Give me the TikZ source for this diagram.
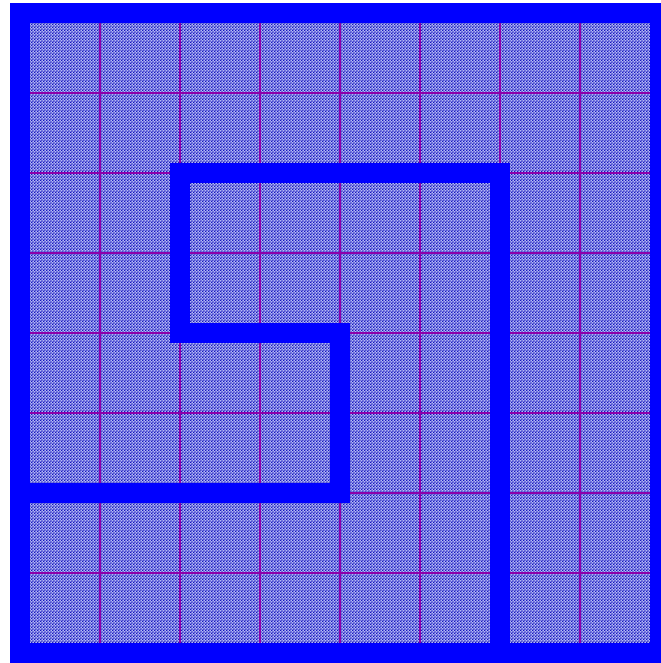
\documentclass[tikz,border=0pt]{standalone}
\usepackage{xcolor}
\usetikzlibrary{patterns}

\definecolor{wallblue}{rgb}{0,0,1}
\definecolor{gridpurple}{RGB}{140,0,170}
\definecolor{cellblue}{RGB}{20,20,190}
\definecolor{cellbase}{RGB}{180,185,245}

% fine checker pattern for the cells
\pgfdeclarepatternformonly{checker}{\pgfpointorigin}{\pgfqpoint{1pt}{1pt}}%
  {\pgfqpoint{1pt}{1pt}}{%
  \pgfpathrectangle{\pgfpointorigin}{\pgfqpoint{0.5pt}{0.5pt}}
  \pgfpathrectangle{\pgfqpoint{0.5pt}{0.5pt}}{\pgfqpoint{0.5pt}{0.5pt}}
  \pgfusepath{fill}}

\tikzset{
  wall/.style={line width=0.24cm,draw=wallblue,line cap=rect,line join=miter},
  gridline/.style={line width=0.95pt,draw=gridpurple}
}

\begin{document}
\begin{tikzpicture}
  \def\N{8}

  \useasboundingbox (-0.25,-0.125) rectangle (\N,8.1625);
  \fill[white] (-0.25,-0.125) rectangle (\N,8.1625);

  % cells
  \fill[cellbase] (0,0) rectangle (\N,\N);
  \fill[pattern=checker,pattern color=cellblue] (0,0) rectangle (\N,\N);

  % grid
  \foreach \i in {1,...,7} {
    \draw[gridline] (\i,0) -- (\i,\N);
    \draw[gridline] (0,\i) -- (\N,\i);
  }

  % walls
  \draw[wall] (0,0) rectangle (\N,\N);
  \draw[wall] (0,2) -- (4,2) -- (4,4) -- (2,4) -- (2,6) -- (6,6) -- (6,0);

\end{tikzpicture}
\end{document}
